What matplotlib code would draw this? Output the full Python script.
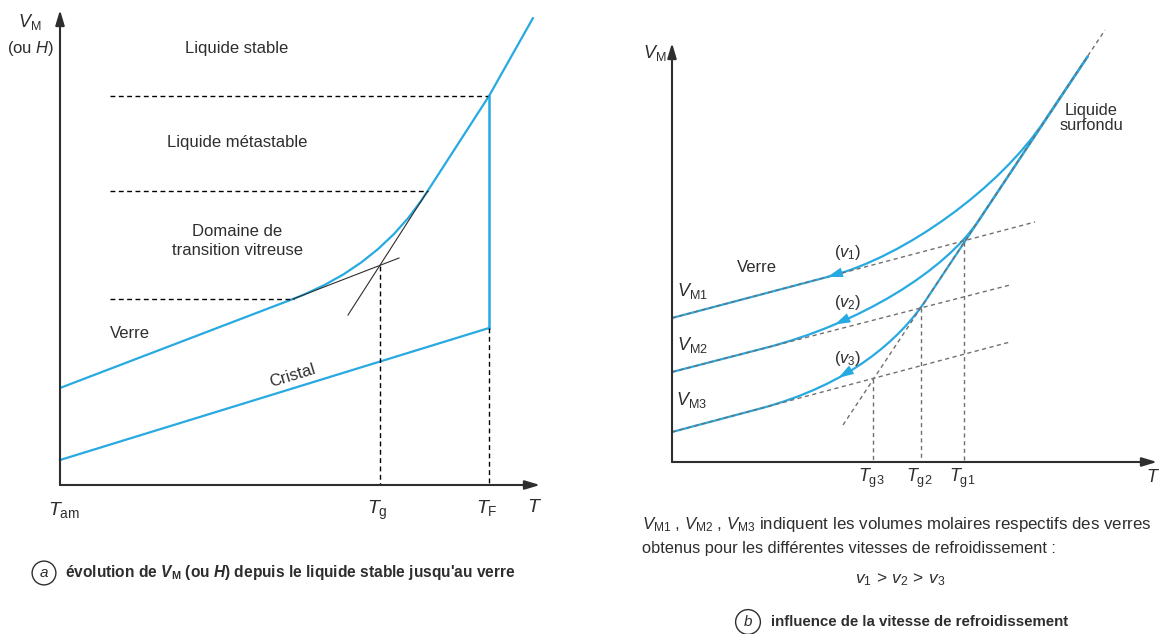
import numpy as np
import matplotlib.pyplot as plt
from matplotlib.path import Path
from matplotlib.patches import PathPatch

plt.rcParams['font.family'] = ['Liberation Sans', 'DejaVu Sans']
plt.rcParams['mathtext.fontset'] = 'custom'
plt.rcParams['mathtext.rm'] = 'Liberation Sans'
plt.rcParams['mathtext.it'] = 'Liberation Sans:italic'
plt.rcParams['mathtext.bf'] = 'Liberation Sans:bold'
try:
    plt.rcParams['mathtext.bfit'] = 'Liberation Sans:italic:bold'
except KeyError:
    pass

blue = '#27a9e1'
ink = '#2e2e2e'
grey = '#707070'

# ---- (a) V_M (or H) from stable liquid down to glass
tg_a = 32.0
tf_a = 42.9
glass_a_T = [0.0, 23.3]
glass_a_V = [9.7, 18.6]
knee_a = [32.0, 21.9]          # crossing of the glass and liquid extrapolations
liquid_a_T = [36.7, 42.9, 47.3]
liquid_a_V = [29.3, 38.9, 46.7]
crystal_T = [0.0, 42.9]
crystal_V = [2.5, 15.7]
glass_ext_T = [23.3, 33.9]
glass_ext_V = [18.6, 22.7]
liq_ext_T = [28.8, 36.7]
liq_ext_V = [17.0, 29.3]
levels_V = [38.9, 29.4, 18.6]
levels_end = [42.9, 36.8, 23.4]
levels_start = 5.0
zones = ['Liquide stable', 'Liquide métastable', 'Domaine de\ntransition vitreuse']
zones_V = [43.6, 34.2, 24.4]

# ---- (b) effect of the cooling rate
liq_b_T = [17.1, 43.3]         # supercooled liquid, dashed extrapolation
liq_b_V = [3.7, 43.2]
liq_top = [41.6, 40.6]
glass_b_V0 = [14.4, 9.0, 3.0]
glass_b_end_T = [36.3, 33.8, 33.8]
glass_b_end_V = [24.0, 17.7, 12.0]
tg_b = [29.2, 24.9, 20.1]
tg_b_V = [22.0, 15.4, 8.3]
tg_names = ['g1', 'g2', 'g3']
bend_T = [[37.3, 32.8, 23.3, 15.8], [30.7, 27.3, 18.8, 9.3], [25.4, 22.8, 17.8, 8.8]]
bend_V = [[34.2, 27.4, 20.55, 18.57], [24.2, 19.1, 13.83, 11.4], [16.2, 12.3, 7.74, 5.34]]
arrow_T = [15.5, 16.1, 16.5]

fig = plt.figure(figsize=(11.59, 6.34), dpi=100)
ax_a = fig.add_axes([0, 0, 580 / 1159, 1])
ax_b = fig.add_axes([580 / 1159, 0, 579 / 1159, 1])
ax_a.set_xlim(-6.0, 52.0)
ax_a.set_ylim(-14.9, 48.5)
ax_b.set_xlim(-9.2, 48.7)
ax_b.set_ylim(-17.2, 46.2)
for ax in (ax_a, ax_b):
    ax.axis('off')

head = '-|>,head_length=0.6,head_width=0.18'


def axis_arrows(ax, tmax, vmax):
    for end in [(tmax, 0), (0, vmax)]:
        ax.annotate('', xy=end, xytext=(0, 0),
                    arrowprops=dict(arrowstyle=head, color=ink, lw=1.5,
                                    mutation_scale=15, shrinkA=0, shrinkB=0))


# ---------------- panel a ----------------
axis_arrows(ax_a, 48.0, 47.5)

for v, te in zip(levels_V, levels_end):
    ax_a.plot([levels_start, te], [v, v], color='black', lw=1, ls=(0, (3.5, 2.5)))
for v, txt in zip(zones_V, zones):
    ax_a.text(17.7, v, txt, ha='center', va='center', fontsize=12, color=ink,
              linespacing=1.3)

ax_a.plot(glass_ext_T, glass_ext_V, color=ink, lw=0.8)
ax_a.plot(liq_ext_T, liq_ext_V, color=ink, lw=0.8)

verts = [(glass_a_T[0], glass_a_V[0]), (glass_a_T[1], glass_a_V[1]),
         tuple(knee_a), (liquid_a_T[0], liquid_a_V[0]),
         (liquid_a_T[1], liquid_a_V[1]), (liquid_a_T[2], liquid_a_V[2])]
codes = [Path.MOVETO, Path.LINETO, Path.CURVE3, Path.CURVE3, Path.LINETO, Path.LINETO]
ax_a.add_patch(PathPatch(Path(verts, codes), fc='none', ec=blue, lw=1.6,
                         capstyle='round', joinstyle='round'))

ax_a.plot(crystal_T, crystal_V, color=blue, lw=1.6)
ax_a.plot([tf_a, tf_a], [liquid_a_V[1], crystal_V[1]], color=blue, lw=1.8)
ax_a.plot([tf_a, tf_a], [crystal_V[1], 0], color='black', lw=1, ls=(0, (3.5, 2.5)))
ax_a.plot([tg_a, tg_a], [knee_a[1], 0], color='black', lw=1, ls=(0, (3.5, 2.5)))

ax_a.text(-3.0, 46.3, r'$V_{\mathrm{M}}$', ha='center', va='center', fontsize=13, color=ink)
ax_a.text(-2.9, 43.6, r'(ou $H$)', ha='center', va='center', fontsize=12, color=ink)
ax_a.text(7.0, 15.1, 'Verre', ha='center', va='center', fontsize=12, color=ink)
ax_a.text(23.2, 10.9, 'Cristal', ha='center', va='center', fontsize=12, color=ink,
          rotation=17, rotation_mode='anchor')

ax_a.text(0.4, -2.5, r'$T_{\mathrm{am}}$', ha='center', va='center', fontsize=14, color=ink)
ax_a.text(tg_a - 0.3, -2.5, r'$T_{\mathrm{g}}$', ha='center', va='center', fontsize=14, color=ink)
ax_a.text(tf_a - 0.2, -2.3, r'$T_{\mathrm{F}}$', ha='center', va='center', fontsize=14, color=ink)
ax_a.text(47.5, -2.2, r'$T$', ha='center', va='center', fontsize=14, color=ink)

ax_a.text(-1.6, -8.8, r'$a$', ha='center', va='center', fontsize=11, color=ink,
          bbox=dict(boxstyle='circle,pad=0.32', fc='white', ec=ink, lw=1))
ax_a.text(0.5, -8.8, r"évolution de $\mathbfit{V}_{\mathbf{M}}$ (ou $\mathbfit{H}$) depuis le liquide stable jusqu'au verre",
          ha='left', va='center', fontsize=11.2, fontweight='bold', color=ink)

# ---------------- panel b ----------------
axis_arrows(ax_b, 48.5, 41.9)

dash_b = dict(color=grey, lw=1, ls=(0, (3, 2.5)))
ax_b.plot(liq_b_T, liq_b_V, **dash_b)
for v0, te, ve in zip(glass_b_V0, glass_b_end_T, glass_b_end_V):
    ax_b.plot([0, te], [v0, ve], **dash_b)
for t, v in zip(tg_b, tg_b_V):
    ax_b.plot([t, t], [v, 0], **dash_b)

for k in range(3):
    verts = [tuple(liq_top)] + list(zip(bend_T[k], bend_V[k])) + [(0, glass_b_V0[k])]
    codes = [Path.MOVETO, Path.LINETO, Path.CURVE4, Path.CURVE4, Path.CURVE4, Path.LINETO]
    path = Path(verts, codes)
    ax_b.add_patch(PathPatch(path, fc='none', ec=blue, lw=1.6, joinstyle='round'))

    # walk the drawn curve to put the direction arrow on it
    pts = []
    for seg, _ in path.iter_bezier():
        pts.append(seg(np.linspace(0, 1, 60)))
    pts = np.vstack(pts)
    i = int(np.argmin(np.abs(pts[:, 0] - arrow_T[k]) + (pts[:, 1] > bend_V[k][1]) * 100))
    ax_b.annotate('', xy=pts[i], xytext=pts[i - 8],
                  arrowprops=dict(arrowstyle='-|>,head_length=0.7,head_width=0.22',
                                  color=blue, lw=0, mutation_scale=16,
                                  shrinkA=0, shrinkB=0))

ax_b.text(-1.7, 40.9, r'$V_{\mathrm{M}}$', ha='center', va='center', fontsize=13, color=ink)
ax_b.text(41.9, 34.35, 'Liquide\nsurfondu', ha='center', va='center', fontsize=11.8,
          color=ink, linespacing=1.0)
ax_b.text(8.5, 19.5, 'Verre', ha='center', va='center', fontsize=12, color=ink)
for k, v in enumerate([17.1, 11.7, 6.2]):
    ax_b.text(2.0, v, r'$V_{\mathrm{M%d}}$' % (k + 1), ha='center', va='center',
              fontsize=13, color=ink)
for k, v in enumerate([21.0, 15.9, 10.4]):
    ax_b.text(17.6, v, r'$(v_%d)$' % (k + 1), ha='center', va='center',
              fontsize=12, color=ink)
for t, name in zip(tg_b, tg_names):
    ax_b.text(t - 0.2, -1.6, r'$T_{\mathrm{%s}}$' % name, ha='center', va='center',
              fontsize=13, color=ink)
ax_b.text(48.1, -1.5, r'$T$', ha='center', va='center', fontsize=13, color=ink)

ax_b.text(-3.0, -6.3, r'$V_{\mathrm{M1}}$ , $V_{\mathrm{M2}}$ , $V_{\mathrm{M3}}$ indiquent les volumes molaires respectifs des verres',
          ha='left', va='center', fontsize=12.2, color=ink)
ax_b.text(-3.0, -8.7, 'obtenus pour les différentes vitesses de refroidissement :',
          ha='left', va='center', fontsize=11.8, color=ink)
ax_b.text(22.8, -11.8, r'$v_1 \,>\, v_2 \,>\, v_3$', ha='center', va='center',
          fontsize=12.5, color=ink)
ax_b.text(7.6, -16.0, r'$b$', ha='center', va='center', fontsize=11, color=ink,
          bbox=dict(boxstyle='circle,pad=0.32', fc='white', ec=ink, lw=1))
ax_b.text(9.9, -16.0, 'influence de la vitesse de refroidissement',
          ha='left', va='center', fontsize=10.8, fontweight='bold', color=ink)

fig.savefig('out.png', dpi=100)
